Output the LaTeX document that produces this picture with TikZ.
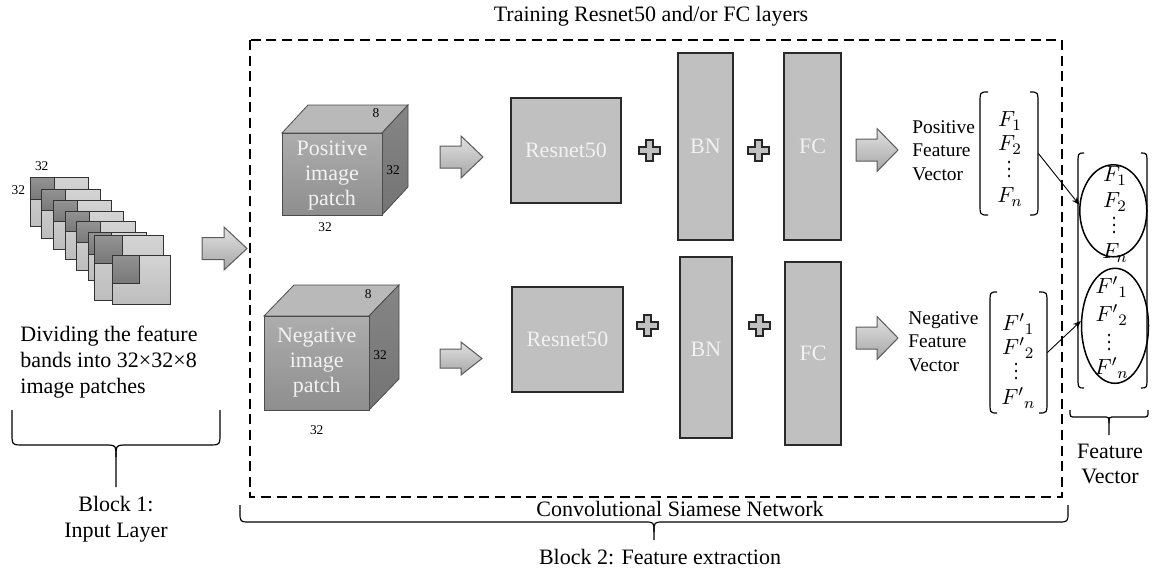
\documentclass[tikz,border=0pt]{standalone}
\usepackage{fontspec}
\setmainfont{Liberation Serif}
\newfontfamily\labelface{Liberation Serif}
\usetikzlibrary{fit,shapes.geometric,arrows.meta}

\definecolor{layerfill}{HTML}{C0C0C0}
\definecolor{layerline}{HTML}{2A2A2A}
\definecolor{arrtop}{HTML}{E2E2E2}
\definecolor{arrbot}{HTML}{A6A6A6}
\definecolor{arredge}{HTML}{5A5A5A}
\definecolor{cubetop}{HTML}{B9B9B9}
\definecolor{cubefronttop}{HTML}{ADADAD}
\definecolor{cubefrontbot}{HTML}{8E8E8E}
\definecolor{cubeside}{HTML}{858585}
\definecolor{cubesidedark}{HTML}{747474}
\definecolor{sheetlighttop}{HTML}{D4D4D4}
\definecolor{sheetlightbot}{HTML}{BDBDBD}
\definecolor{sheetdarktop}{HTML}{939393}
\definecolor{sheetdarkbot}{HTML}{787878}
\definecolor{facewhite}{HTML}{F2F2F2}

% one sheet of the patch stack: outer rectangle, dark corner square
\newcommand\patchsheet[6]{%
  \shade[sheetlight] (#1,#2) rectangle (#3,#4);
  \shade[sheetdark] (#1,#2) rectangle (#5,#6);}
% tall parenthesis made of a straight stroke with curled ends
\newcommand\vbrk[4]{%
  \draw[bracket] (#2,#3) .. controls (#1,#3) .. (#1,{#3+12}) -- (#1,{#4-12}) .. controls (#1,#4) .. (#2,#4);}
% horizontal brace opening upwards
\newcommand\hbrace[7]{%
  \draw[brace] (#1,#4) -- (#1,{#5-#7}) .. controls (#1,#5) .. ({#1+#7},#5) -- ({#3-#7},#5)
     .. controls (#3,#5) .. (#3,{#5+#7}) -- (#3,#6);
  \draw[brace] (#2,#4) -- (#2,{#5-#7}) .. controls (#2,#5) .. ({#2-#7},#5) -- ({#3+#7},#5)
     .. controls (#3,#5) .. (#3,{#5+#7});}

\tikzset{
  pics/blkarrow/.style n args={4}{code={
    \shade[blkarr] (0,-#2) -- ({#1-#4},-#2) -- ({#1-#4},-#3) -- (#1,0) -- ({#1-#4},#3)
      -- ({#1-#4},#2) -- (0,#2) -- cycle;}},
  pics/plussign/.style={code={
    \draw[plusst] (-3.5,-10.5) -- (3.5,-10.5) -- (3.5,-3.5) -- (10.5,-3.5) -- (10.5,3.5)
      -- (3.5,3.5) -- (3.5,10.5) -- (-3.5,10.5) -- (-3.5,3.5) -- (-10.5,3.5) -- (-10.5,-3.5)
      -- (-3.5,-3.5) -- cycle;}},
  % vertical ellipsis inside the vectors
  pics/vellipsis/.style={code={
    \foreach \dy in {-7,0,7} \fill (0,\dy) ellipse (1.1 and 1.6);}}
}

\begin{document}
\begin{tikzpicture}[x=0.5pt,y=-0.5pt,
  every node/.style={inner sep=0pt},
  layer/.style={draw=layerline, fill=layerfill, line width=0.75pt},
  layertext/.style={text=facewhite, font=\labelface\fontsize{11}{13}\selectfont},
  blkarr/.style={draw=arredge, line width=0.5pt, top color=arrtop, bottom color=arrbot},
  plusst/.style={draw=black!85, line width=1pt, fill=layerfill, line join=miter},
  lbl/.style={font=\labelface\fontsize{11}{13.2}\selectfont, align=center},
  small/.style={font=\labelface\fontsize{6.7}{8}\selectfont},
  sidelbl/.style={font=\labelface\fontsize{9.7}{11.7}\selectfont, align=left, anchor=west},
  vec/.style={font=\fontsize{11}{12}\selectfont},
  brace/.style={line width=0.6pt},
  bracket/.style={line width=0.6pt},
  facetext/.style={text=facewhite, font=\labelface\fontsize{11}{12.5}\selectfont, align=center},
  cubeedge/.style={draw=black!70, line width=0.4pt},
  sheetlight/.style={draw=black!80, line width=0.5pt, top color=sheetlighttop, bottom color=sheetlightbot},
  sheetdark/.style={draw=black!80, line width=0.5pt, top color=sheetdarktop, bottom color=sheetdarkbot},
  frame/.style={draw=black, line width=1.1pt, dash pattern=on 5pt off 2.8pt},
  link/.style={line width=0.45pt, -{Stealth[length=4pt,width=3.2pt]}},
  vecoval/.style={draw, ellipse, line width=0.75pt}
]
\useasboundingbox (0,0) rectangle (1157,573);

% ---------------- Block 1: the stack of image patches ----------------
\patchsheet{30.7}{177.7}{88.3}{226.7}{54.3}{199.3}
\patchsheet{41.7}{189}{100}{238.3}{65.3}{210.7}
\patchsheet{53.3}{200}{111.7}{249}{77.3}{221.7}
\patchsheet{65.3}{211}{123.3}{259}{89}{231.7}
\patchsheet{76.7}{221.7}{135}{270}{100}{242.7}
\patchsheet{88.3}{232.3}{146.7}{280.7}{111}{254}
\patchsheet{94.3}{235.7}{163.3}{300}{122.3}{263.3}
\patchsheet{112.3}{255}{170}{304}{139.3}{283.3}
\node[small] (stackw) at (41.7,166) {32};
\node[small] (stackh) at (18.3,190) {32};

\node[lbl, align=left, anchor=west, font=\labelface\fontsize{11}{13}\selectfont] (divide) at (20,362)
  {Dividing the feature\\bands into 32×32×8\\image patches};
\hbrace{12}{220}{116}{410}{445}{487}{12}
\node[lbl] (block1) at (116,519) {Block 1:\\Input Layer};

\pic at (202,248.5) {blkarrow={45}{11}{21.5}{23}};

% ---------------- Block 2: siamese network ----------------
\node[lbl] (title) at (651,16) {Training Resnet50 and/or FC layers};
\draw[frame] (250,40) rectangle (1062,497);
\node[lbl] (csn) at (680,509) {Convolutional Siamese Network};
\hbrace{240}{1068}{654}{505}{522}{540}{10}
\node[lbl] (block2) at (660,557) {Block 2: Feature extraction};

% positive patch cube
\fill[cubetop] (282,133) -- (308,105) -- (408,105) -- (382,133) -- cycle;
\draw[cubeedge] (282,133) -- (308,105) -- (408,105) -- (382,133) -- cycle;
\shade[cubeedge, top color=cubeside, bottom color=cubesidedark] (382,133) -- (408,105) -- (408,187) -- (382,215) -- cycle;
\node[cubeedge, top color=cubefronttop, bottom color=cubefrontbot, fit={(282,133) (382,215)}] (posfront) {};
\node[facetext] (postext) at (332,176) {Positive\\image\\patch};
\node[small] (posd) at (376,113) {8};
\node[small] (posh) at (393,170) {32};
\node[small] (posw) at (325,227) {32};

% negative patch cube
\fill[cubetop] (264,316) -- (294,285) -- (399,285) -- (369,316) -- cycle;
\draw[cubeedge] (264,316) -- (294,285) -- (399,285) -- (369,316) -- cycle;
\shade[cubeedge, top color=cubeside, bottom color=cubesidedark] (369,316) -- (399,285) -- (399,379) -- (369,410) -- cycle;
\node[cubeedge, top color=cubefronttop, bottom color=cubefrontbot, fit={(264,316) (369,410)}] (negfront) {};
\node[facetext] (negtext) at (316.7,363) {Negative\\image\\patch};
\node[small] (negd) at (368.3,294) {8};
\node[small] (negh) at (380,355) {32};
\node[small] (negw) at (316.7,430) {32};

\pic at (440,157) {blkarrow={43}{11}{21}{22}};
\pic at (440,358.5) {blkarrow={42}{9.5}{16.5}{21}};

% upper branch
\node[layer, fit={(511,98) (621,203)}] (resA) {};
\node[layertext] at (resA.center) {Resnet50};
\pic at (649,150) {plussign};
\node[layer, fit={(678,53) (733,240)}] (bnA) {};
\node[layertext] at (bnA.center) {BN};
\pic at (758.5,150) {plussign};
\node[layer, fit={(784,53) (841,240)}] (fcA) {};
\node[layertext] at (fcA.center) {FC};
\pic at (856,150) {blkarrow={42}{11}{21.5}{21}};

% lower branch
\node[layer, fit={(512,287) (623,392)}] (resB) {};
\node[layertext] at (resB.center) {Resnet50};
\pic at (647,325) {plussign};
\node[layer, fit={(680,257) (732,438)}] (bnB) {};
\node[layertext] at ([yshift=-1pt]bnB.center) {BN};
\pic at (759,325) {plussign};
\node[layer, fit={(785,262) (841,445)}] (fcB) {};
\node[layertext] at (fcB.center) {FC};
\pic at (856,338) {blkarrow={42}{11}{21.5}{21}};

% positive feature vector
\node[sidelbl] (poslbl) at (912,150.7) {Positive\\Feature\\Vector};
\vbrk{980}{988}{92}{215}
\vbrk{1038}{1030}{92}{215}
\node[fit={(980,92) (1038,215)}] (posvec) {};
\node[vec] (p1) at (1010,121) {$F_1$};
\node[vec] (p2) at (1010,145) {$F_2$};
\pic at (1009,169) {vellipsis};
\node[vec] (pn) at (1010,197) {$F_n$};

% negative feature vector
\node[sidelbl] (neglbl) at (908,341.7) {Negative\\Feature\\Vector};
\vbrk{990}{997}{292}{413}
\vbrk{1047}{1039}{292}{413}
\node[fit={(990,292) (1047,413)}] (negvec) {};
\node[vec] (n1) at (1018.3,324) {${F'}_{1}$};
\node[vec] (n2) at (1018.3,348) {${F'}_{2}$};
\pic at (1016,371) {vellipsis};
\node[vec] (nn) at (1018.3,398) {${F'}_{n}$};

% concatenated feature vector
\vbrk{1078}{1084}{153}{388}
\vbrk{1147}{1141}{153}{388}
\node[vecoval, minimum width=33.5pt, minimum height=46pt] (e1) at (1113.3,210.8) {};
\node[vecoval, minimum width=33.5pt, minimum height=57.5pt] (e2) at (1115,325.8) {};
\node[vec] (c1) at (1115,176) {$F_1$};
\node[vec] (c2) at (1115,202) {$F_2$};
\pic at (1114,225) {vellipsis};
\node[vec] (cn) at (1115,253) {$F_n$};
\node[vec] (d1) at (1111.7,287) {${F'}_{1}$};
\node[vec] (d2) at (1111.7,315) {${F'}_{2}$};
\pic at (1109,342) {vellipsis};
\node[vec] (dn) at (1111.7,368) {${F'}_{n}$};

\draw[link] (posvec.east) -- (e1.170);
\draw[link] (negvec.east) -- (e2.172);

\hbrace{1070}{1148}{1109}{410}{417}{435}{6}
\node[lbl, font=\labelface\fontsize{11}{12.5}\selectfont] (fvlbl) at (1110,464) {Feature\\Vector};
\end{tikzpicture}
\end{document}
